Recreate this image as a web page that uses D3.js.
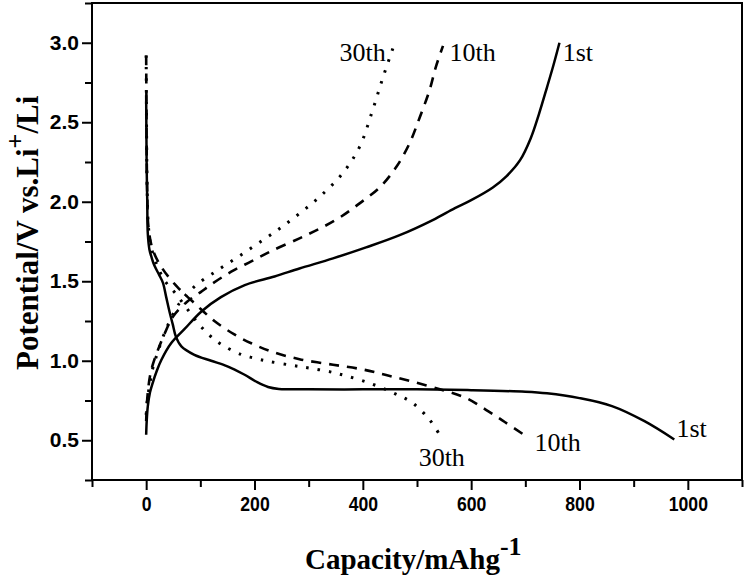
<!DOCTYPE html>
<html>
<head>
<meta charset="utf-8">
<script src="https://cdn.jsdelivr.net/npm/d3@7/dist/d3.min.js"></script>
<style>
  body { margin: 0; background: #fff; }
  .tick-x text { font-family: "Liberation Sans", Arial, sans-serif; font-weight: bold; font-size: 21px; }
  .tick-y text { font-family: "Liberation Sans", Arial, sans-serif; font-weight: bold; font-size: 21px; }
  .title { font-family: "Liberation Serif", "Times New Roman", serif; font-weight: bold; }
  .curve-label { font-family: "Liberation Serif", "Times New Roman", serif; font-size: 26px; }
</style>
</head>
<body>
<svg id="chart" width="746" height="578"></svg>
<script>
// axis ticks
const xMajor = [0, 200, 400, 600, 800, 1000];
const xMinor = [-100, 100, 300, 500, 700, 900, 1100];
const yMajor = [0.5, 1.0, 1.5, 2.0, 2.5, 3.0];
const yMinor = [0.25, 0.75, 1.25, 1.75, 2.25, 2.75, 3.25];

// [capacity mAh/g, potential V]
const discharge1 = [
  [0, 2.67], [0.5, 2.4], [1, 2.2], [2, 2.01], [3, 1.8], [6, 1.7], [10, 1.65], [15, 1.6],
  [24, 1.54], [31, 1.49], [37, 1.4], [43, 1.31], [49, 1.23], [55, 1.15], [65, 1.09],
  [89, 1.037], [120, 1.0], [150, 0.965], [180, 0.915], [205, 0.865], [225, 0.835],
  [245, 0.823], [300, 0.82], [400, 0.82], [500, 0.82], [600, 0.815], [700, 0.805],
  [740, 0.795], [800, 0.765], [860, 0.715], [920, 0.62], [975, 0.505]
];
const charge1 = [
  [0, 0.535], [1, 0.62], [3, 0.713], [7, 0.8], [12, 0.86], [20, 0.94], [28, 1.005],
  [46, 1.11], [71, 1.2], [102, 1.31], [138, 1.4], [182, 1.476], [237, 1.53],
  [283, 1.58], [345, 1.644], [406, 1.713], [468, 1.79], [529, 1.885], [570, 1.96],
  [600, 2.01], [640, 2.09], [665, 2.16], [690, 2.26], [710, 2.4], [725, 2.55],
  [740, 2.72], [752, 2.86], [763, 3.0]
];
const discharge10 = [
  [0, 2.92], [0.5, 2.6], [1, 2.3], [2, 2.05], [4, 1.85], [12, 1.7], [30, 1.58],
  [57, 1.466], [93, 1.35], [126, 1.25], [162, 1.167], [194, 1.11], [231, 1.058],
  [283, 1.01], [345, 0.975], [400, 0.945], [443, 0.91], [492, 0.868], [548, 0.815],
  [591, 0.765], [628, 0.69], [662, 0.615], [695, 0.54]
];
const charge10 = [
  [0, 0.62], [1, 0.7], [3, 0.8], [8, 0.92], [15, 1.005], [34, 1.17], [50, 1.28],
  [75, 1.37], [100, 1.43], [120, 1.48], [157, 1.56], [194, 1.625], [231, 1.69],
  [283, 1.77], [320, 1.83], [357, 1.9], [394, 1.99], [431, 2.09], [462, 2.22],
  [486, 2.366], [505, 2.53], [523, 2.7], [535, 2.85], [548, 2.98]
];
const discharge30 = [
  [0, 2.92], [0.5, 2.6], [1, 2.3], [2, 2.05], [4, 1.85], [9, 1.72], [20, 1.6],
  [35, 1.5], [55, 1.42], [75, 1.33], [95, 1.24], [117, 1.16], [140, 1.1],
  [175, 1.04], [200, 1.016], [225, 0.997], [268, 0.972], [300, 0.955], [340, 0.93],
  [369, 0.905], [412, 0.86], [455, 0.8], [492, 0.734], [523, 0.63], [540, 0.545]
];
const charge30 = [
  [0, 0.66], [2, 0.75], [6, 0.84], [12, 0.95], [21, 1.05], [37, 1.2], [61, 1.36],
  [89, 1.466], [132, 1.57], [175, 1.665], [218, 1.765], [250, 1.84], [283, 1.926],
  [320, 2.03], [363, 2.18], [394, 2.345], [418, 2.575], [437, 2.78], [458, 2.99]
];

const cycles = [
  { name: "1st",  dash: null,   width: 2.5, curves: [discharge1, charge1] },
  { name: "10th", dash: "10,8", width: 2.6, curves: [discharge10, charge10] },
  { name: "30th", dash: "2.5,9", width: 3,  curves: [discharge30, charge30] }
];

// label anchors in data units
const labels = [
  { text: "30th", cap: 357, v: 2.883 },
  { text: "10th", cap: 560, v: 2.883 },
  { text: "1st",  cap: 769, v: 2.883 },
  { text: "30th", cap: 503, v: 0.336 },
  { text: "10th", cap: 717, v: 0.43 },
  { text: "1st",  cap: 979, v: 0.52 }
];

const margin = { top: 3, right: 4, bottom: 98, left: 92 };
const width = 746, height = 578;
const svg = d3.select("#chart");

const x = d3.scaleLinear().domain([-100, 1100]).range([margin.left, width - margin.right]);
const y = d3.scaleLinear().domain([0.25, 3.25]).range([height - margin.bottom, margin.top]);

// curves
const line = d3.line()
  .x(d => x(d[0]))
  .y(d => y(d[1]))
  .curve(d3.curveCatmullRom.alpha(0.5));

cycles.forEach(c => {
  c.curves.forEach(data => {
    svg.append("path")
      .datum(data)
      .attr("fill", "none")
      .attr("stroke", "#000")
      .attr("stroke-width", c.width)
      .attr("stroke-dasharray", c.dash)
      .attr("d", line);
  });
});

// axes
const xAxisY = height - margin.bottom;
svg.append("g")
  .attr("class", "tick-x")
  .attr("transform", `translate(0,${xAxisY})`)
  .call(d3.axisBottom(x).tickValues(xMajor).tickSize(10).tickPadding(6).tickFormat(d3.format("d")))
  .call(g => g.select(".domain").remove())
  .call(g => g.selectAll(".tick text").attr("transform", "scale(0.84,1)"));
svg.append("g")
  .attr("transform", `translate(0,${xAxisY})`)
  .call(d3.axisBottom(x).tickValues(xMinor).tickSize(7).tickFormat(""))
  .call(g => g.select(".domain").remove());

svg.append("g")
  .attr("class", "tick-y")
  .attr("transform", `translate(${margin.left},0)`)
  .call(d3.axisLeft(y).tickValues(yMajor).tickSize(10).tickPadding(3).tickFormat(d3.format(".1f")))
  .call(g => g.select(".domain").remove());
svg.append("g")
  .attr("transform", `translate(${margin.left},0)`)
  .call(d3.axisLeft(y).tickValues(yMinor).tickSize(7).tickFormat(""))
  .call(g => g.select(".domain").remove());

svg.selectAll(".tick line").attr("stroke-width", 2);

// frame
svg.append("rect")
  .attr("x", x(-100))
  .attr("y", y(3.25))
  .attr("width", x(1100) - x(-100))
  .attr("height", y(0.25) - y(3.25))
  .attr("fill", "none")
  .attr("stroke", "#000")
  .attr("stroke-width", 2);

// curve labels
svg.selectAll(".curve-label")
  .data(labels)
  .join("text")
  .attr("class", "curve-label")
  .attr("x", d => x(d.cap))
  .attr("y", d => y(d.v))
  .text(d => d.text);

// axis titles
const xt = svg.append("text")
  .attr("class", "title")
  .style("font-size", "29px")
  .attr("x", 305)
  .attr("y", 569);
xt.append("tspan").text("Capacity/mAhg");
xt.append("tspan").attr("dy", -14).style("font-size", "26px").text("-1");

const yt = svg.append("text")
  .attr("class", "title")
  .style("font-size", "31px")
  .attr("transform", "translate(38,370) rotate(-90)");
yt.append("tspan").text("Potential/V vs.Li");
yt.append("tspan").attr("dy", -14).style("font-size", "26px").text("+");
yt.append("tspan").attr("dy", 14).text("/Li");
</script>
</body>
</html>
